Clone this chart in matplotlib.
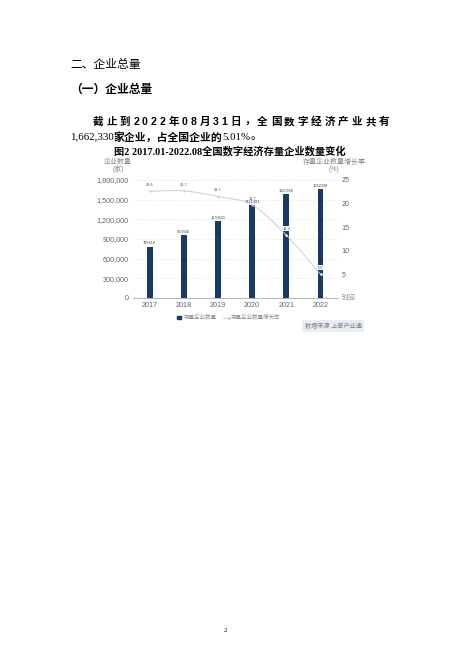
import numpy as np
import matplotlib
matplotlib.use('Agg')
import matplotlib.pyplot as plt
from matplotlib.path import Path
from matplotlib.patches import PathPatch

plt.rcParams['font.family'] = ['Liberation Sans', 'Noto Sans CJK SC']

# data
years = ['2017', '2018', '2019', '2020', '2021', '2022']
counts = [785418, 963940, 1170631, 1421481, 1587259, 1662330]
growth = [22.6, 22.7, 21.5, 19.7, 13.3, 5.0]
left_ticks = [0, 300000, 600000, 900000, 1200000, 1500000, 1800000]
right_ticks = [5, 10, 15, 20, 25]

bar_col = '#183a66'
line_col = '#c9cbdc'
grey = '#8a8a8a'

W, H = 460, 650
fig = plt.figure(figsize=(W / 100, H / 100), dpi=100)
fig.patch.set_facecolor('white')


def fx(px):
    return px / W


def fy(py):
    return 1 - py / H


serif_cjk = ['Liberation Serif', 'Noto Sans CJK SC']
sans_cjk = ['Liberation Sans', 'Noto Sans CJK SC']
renderer = fig.canvas.get_renderer()


def text_width(s, **kw):
    t = fig.text(0, 0, s, **kw)
    w = t.get_window_extent(renderer).width
    t.remove()
    return w


# page text
fig.text(fx(70), fy(65), '二、企业总量', fontsize=8.5, family=serif_cjk,
         va='center', ha='left')
fig.text(fx(70), fy(90), '（一）企业总量', fontsize=8.5, family=serif_cjk,
         weight='bold', va='center', ha='left')

# justified first paragraph line, char by char
line1 = '截止到2022年08月31日，全国数字经济产业共有'
kw1 = dict(fontsize=7.6, family=sans_cjk, weight='bold')
widths = [text_width(ch, **kw1) for ch in line1]
x0, x1 = 93, 389
gap = (x1 - x0 - sum(widths)) / (len(line1) - 1)
xc = x0
for ch, w in zip(line1, widths):
    fig.text(fx(xc), fy(122), ch, va='center', ha='left', **kw1)
    xc += w + gap

# second line: serif numbers, bold CJK
line2 = [('1,662,330', 'normal'), ('家企业，占全国企业的', 'bold'),
         ('5.01%', 'normal'), ('。', 'normal')]
xc = 70
for seg, wt in line2:
    kw2 = dict(fontsize=7.8, family=serif_cjk, weight=wt)
    fig.text(fx(xc), fy(137), seg, va='center', ha='left', **kw2)
    xc += text_width(seg, **kw2)

fig.text(fx(230), fy(151), '图2 2017.01-2022.08全国数字经济存量企业数量变化',
         fontsize=7.4, family=serif_cjk, weight='bold', ha='center', va='center')

# chart
ax = fig.add_axes([fx(132.6), fy(298), fx(205), 118 / H])
x = np.arange(len(years))
ax.bar(x, counts, width=0.17, color=bar_col, zorder=2)
ax.set_xlim(-0.5, 5.5)
ax.set_ylim(0, 1800000)
ax.set_yticks(left_ticks)
ax.set_yticklabels([f'{v:,}' for v in left_ticks])
ax.set_xticks(x)
ax.set_xticklabels(years)
ax.tick_params(axis='both', length=0, labelsize=5.2, colors='#666666')
ax.tick_params(axis='x', pad=3)
ax.tick_params(axis='y', pad=3)
ax.grid(axis='y', linestyle=(0, (1.5, 2)), color='#dddddd', linewidth=0.5, zorder=0)
for s in ['top', 'right', 'left']:
    ax.spines[s].set_visible(False)
ax.spines['bottom'].set_color('#aaaaaa')
ax.spines['bottom'].set_linewidth(0.6)

for xi, c in zip(x, counts):
    ax.text(xi, c + 18000, str(c), fontsize=2.8, color='#444444',
            ha='center', va='bottom')

ax2 = ax.twinx()
ax2.set_ylim(0, 25)
ax2.set_yticks(right_ticks)
ax2.tick_params(axis='y', length=0, labelsize=5.2, colors='#666666', pad=3)
for s in ax2.spines.values():
    s.set_visible(False)

# smooth curve through the growth points (Catmull-Rom -> Bezier)
pts = np.column_stack([x, growth]).astype(float)
verts = [tuple(pts[0])]
codes = [Path.MOVETO]
for i in range(len(pts) - 1):
    p0 = pts[max(i - 1, 0)]
    p1 = pts[i]
    p2 = pts[i + 1]
    p3 = pts[min(i + 2, len(pts) - 1)]
    c1 = p1 + (p2 - p0) / 6
    c2 = p2 - (p3 - p1) / 6
    verts += [tuple(c1), tuple(c2), tuple(p2)]
    codes += [Path.CURVE4] * 3
ax2.add_patch(PathPatch(Path(verts, codes), facecolor='none',
                        edgecolor=line_col, linewidth=0.7, zorder=3))
ax2.scatter(x, growth, s=2.5, color=line_col, zorder=4, linewidths=0)
ax2.scatter(x[4:], growth[4:], s=3, color='white', zorder=5, linewidths=0)
for i, (xi, g) in enumerate(zip(x, growth)):
    if i >= 4:
        ax2.text(xi, g + 1.0, f'{g}', fontsize=2.8, color='#444444', ha='center',
                 va='bottom', zorder=6,
                 bbox=dict(boxstyle='square,pad=0.15', fc='white', ec='none'))
    else:
        ax2.text(xi, g + 0.9, f'{g}', fontsize=2.8, color='#444444',
                 ha='center', va='bottom', zorder=6)

# axis titles
fig.text(fx(118), fy(166), '企业数量\n(家)', fontsize=5, color=grey,
         ha='center', va='center', linespacing=0.95)
fig.text(fx(334), fy(166), '存量企业数量增长率\n(%)', fontsize=5, color=grey,
         ha='center', va='center', linespacing=0.95)
fig.text(fx(341), fy(298), '时间', fontsize=5, color=grey, ha='left', va='center')

# legend
fig.patches.append(plt.Rectangle((fx(177), fy(319)), fx(4), 3 / H,
                                 color=bar_col, transform=fig.transFigure))
fig.text(fx(184), fy(317.5), '存量企业数量', fontsize=4.0, color=grey, va='center')
fig.lines.append(plt.Line2D([fx(223), fx(229)], [fy(317.5), fy(317.5)],
                            color=line_col, linewidth=0.6, marker='o',
                            markersize=1.2, markevery=[1],
                            transform=fig.transFigure))
fig.text(fx(231), fy(317.5), '存量企业数量增长率', fontsize=4.0, color=grey, va='center')

# source box
fig.text(fx(333), fy(326), '数据来源 上奇产业通', fontsize=4.4, color='#7a8190',
         ha='center', va='center',
         bbox=dict(boxstyle='square,pad=0.5', fc='#e9edf3', ec='none'))

fig.text(fx(225), fy(630), '2', fontsize=5, family=serif_cjk, ha='center', va='center')

fig.savefig('out.png', dpi=100, facecolor='white')
